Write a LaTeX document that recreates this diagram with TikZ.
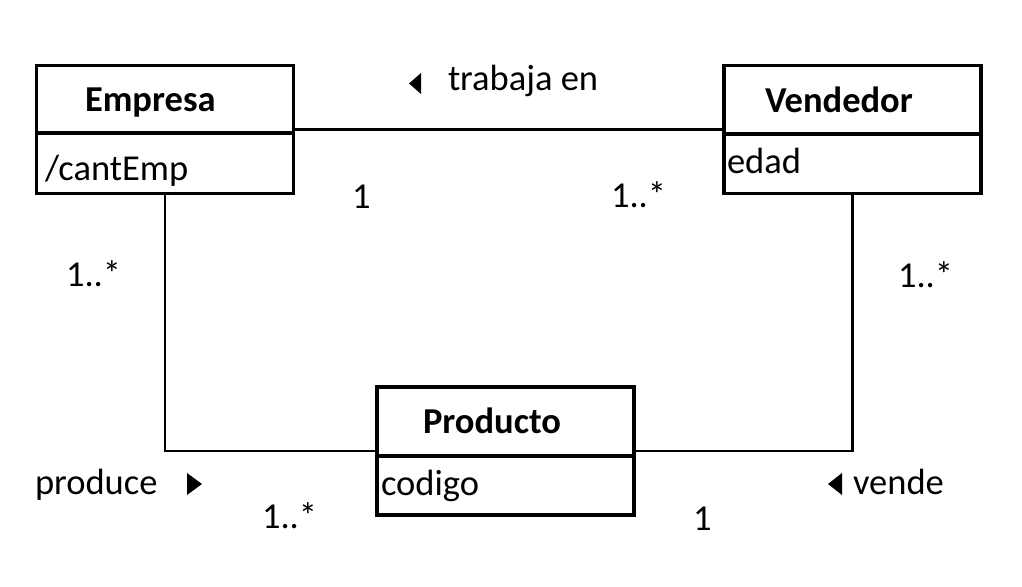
\documentclass[tikz,border=0pt]{standalone}
\usepackage{fontspec}
\setmainfont{Carlito}
\begin{document}
\begin{tikzpicture}[x=1pt,y=-1pt,
  font=\fontsize{36.5}{40}\selectfont,
  classbox/.style={draw, line width=3.4pt, minimum width=257pt, minimum height=128pt, inner sep=0pt, outer sep=0pt},
  divider/.style={line width=3.4pt},
  lbl/.style={anchor=base west, inner sep=0pt, outer sep=0pt},
  ttl/.style={lbl, font=\fontsize{36.5}{40}\selectfont\bfseries},
  conn/.style={line width=2.3pt},
  navtri/.style={fill=black}]
\useasboundingbox (0,0) rectangle (1022,586);
% class boxes
\node[classbox] (emp) at (165,129.5) {};
\node[classbox] (ven) at (852.5,129.5) {};
\node[classbox] (pro) at (505.5,451) {};
\draw[divider] (emp.west |- 0,133) -- (emp.east |- 0,133);
\draw[divider] (ven.west |- 0,134) -- (ven.east |- 0,134);
\draw[divider] (pro.west |- 0,456) -- (pro.east |- 0,456);
% class texts
\node[ttl] (empT) at (85,111) {Empresa};
\node[lbl] (empA) at (45,180) {/cantEmp};
\node[ttl] (venT) at (765,112) {Vendedor};
\node[lbl] (venA) at (727,173) {edad};
\node[ttl] (proT) at (423,433) {Producto};
\node[lbl] (proA) at (381,495) {codigo};
% connectors
\draw[conn] (emp.east) -- (ven.west);
\draw[conn] (emp.south) |- (pro.west);
\draw[conn] (ven.south) |- (pro.east);
% association names
\node[lbl] (trab) at (448,90) {trabaja en};
\fill[navtri] (409,83.5) -- (421,73) -- (421,94) -- cycle;
\node[lbl] (prod) at (35,494) {produce};
\fill[navtri] (202,484) -- (187,473) -- (187,495) -- cycle;
\node[lbl] (vend) at (853,494) {vende};
\fill[navtri] (828,484) -- (842,473) -- (842,495) -- cycle;
% multiplicities
\node[lbl] (m1) at (352,208) {1};
\node[lbl] (m2) at (611,207) {1..*};
\node[lbl] (m3) at (66,286) {1..*};
\node[lbl] (m4) at (898,287) {1..*};
\node[lbl] (m5) at (262,528) {1..*};
\node[lbl] (m6) at (693,530) {1};
\end{tikzpicture}
\end{document}
